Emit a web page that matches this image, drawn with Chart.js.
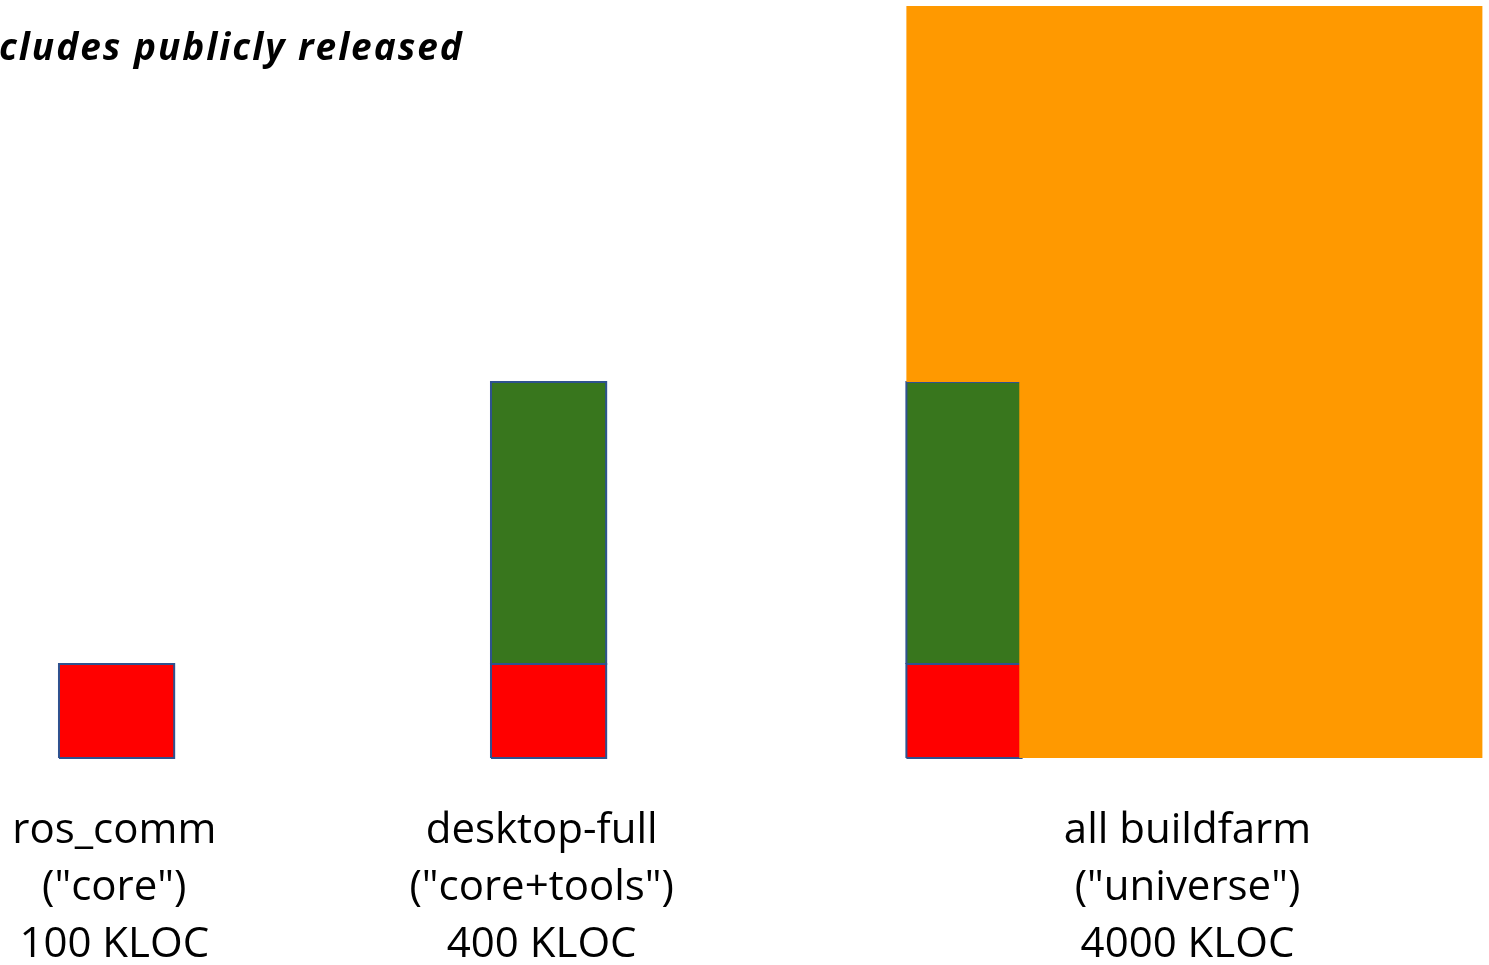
<!DOCTYPE html>
<html>
<head>
<meta charset="utf-8">
<script src="https://cdn.jsdelivr.net/npm/chart.js@4.4.1/dist/chart.umd.min.js"></script>
<style>
  html, body { margin: 0; padding: 0; background: #ffffff; }
  #wrap { width: 1489px; height: 965px; position: relative; }
</style>
</head>
<body>
<div id="wrap"><canvas id="c"></canvas></div>
<script>
// ---- data ----
const categories = ['ros_comm', 'desktop-full', 'all buildfarm'];
const scopeTags = ['("core")', '("core+tools")', '("universe")'];
const totalKloc = [100, 400, 4000];
const coreKloc = [100, 100, 100];
const toolsKloc = [0, 300, 300];
const universeKloc = [0, 0, 4000];
const titleText = 'cludes publicly released';

// ---- layout / style constants ----
const KLOC_PER_CELL = 100;          // one square cell = 100 KLOC
const blockLeft = [0.512, 4.262, 7.868]; // left edge of each group (cells)
const labelShift = [-0.02, -0.06, -0.06]; // small label offsets (cells)
const universeWidth = 5;            // universe block width (cells)
const COLORS = { core: '#ff0000', tools: '#38761d', universe: '#ff9900', edge: '#2f528f' };

function rectPoly(x0, x1, y0, y1) {
  return [{x:x0,y:y0},{x:x0,y:y1},{x:x1,y:y1},{x:x1,y:y0},{x:x0,y:y0}];
}

const datasets = [];
// universe block (L-shape, drawn on top of its core+tools blocks)
universeKloc.forEach((k, i) => {
  if (!k) return;
  const x0 = blockLeft[i], w = universeWidth, h = k / KLOC_PER_CELL / w;
  const inner = (coreKloc[i] + toolsKloc[i]) / KLOC_PER_CELL; // height of core+tools column (width 1)
  const xi = x0 + 1 - 0.02;
  datasets.push({
    label: 'universe', order: 0,
    data: [{x:x0,y:h},{x:x0+w,y:h},{x:x0+w,y:0},{x:xi,y:0},{x:xi,y:inner},{x:x0,y:inner},{x:x0,y:h}],
    backgroundColor: COLORS.universe, borderWidth: 0, fill: 'shape'
  });
});
categories.forEach((c, i) => {
  const x0 = blockLeft[i];
  const coreH = coreKloc[i] / KLOC_PER_CELL;
  datasets.push({
    label: c + ' core', order: 2,
    data: rectPoly(x0, x0 + 1, 0, coreH),
    backgroundColor: COLORS.core, borderColor: COLORS.edge, borderWidth: 2, fill: 'shape'
  });
  if (toolsKloc[i]) {
    datasets.push({
      label: c + ' tools', order: 1,
      data: rectPoly(x0, x0 + 1, coreH, coreH + toolsKloc[i] / KLOC_PER_CELL),
      backgroundColor: COLORS.tools, borderColor: COLORS.edge, borderWidth: 2, fill: 'shape'
    });
  }
});

const labelCenters = categories.map((c, i) => {
  const w = universeKloc[i] ? universeWidth : 1;
  return blockLeft[i] + w / 2 + labelShift[i];
});

const titlePlugin = {
  id: 'titleText',
  afterDraw(chart) {
    const ctx = chart.ctx;
    ctx.save();
    ctx.font = 'italic bold 37px "Open Sans"';
    if ('letterSpacing' in ctx) ctx.letterSpacing = '2px';
    ctx.fillStyle = '#000';
    ctx.textBaseline = 'alphabetic';
    ctx.fillText(titleText, -1, 60);
    ctx.restore();
  }
};

new Chart(document.getElementById('c'), {
  type: 'scatter',
  data: { datasets },
  plugins: [titlePlugin],
  options: {
    responsive: true,
    maintainAspectRatio: false,
    animation: false,
    layout: { padding: 0 },
    elements: { line: { tension: 0 }, point: { radius: 0, hoverRadius: 0 } },
    datasets: { scatter: { showLine: true, clip: false } },
    plugins: { legend: { display: false }, tooltip: { enabled: false }, title: { display: false } },
    scales: {
      y: { display: false, min: 0, max: 758 / 94 },
      x: {
        type: 'linear', min: 0, max: 1489 / 115.2,
        grid: { display: false, drawTicks: false },
        border: { display: false },
        afterBuildTicks(scale) { scale.ticks = labelCenters.map(v => ({ value: v })); },
        afterFit(scale) { scale.height = 207; scale.paddingLeft = 0; scale.paddingRight = 0; },
        ticks: {
          autoSkip: false, maxRotation: 0, minRotation: 0, padding: 45,
          color: '#000',
          font: { family: 'Open Sans', size: 42, lineHeight: '57px' },
          callback(value, index) { return [categories[index], scopeTags[index], totalKloc[index] + ' KLOC']; }
        }
      }
    }
  }
});
</script>
</body>
</html>
